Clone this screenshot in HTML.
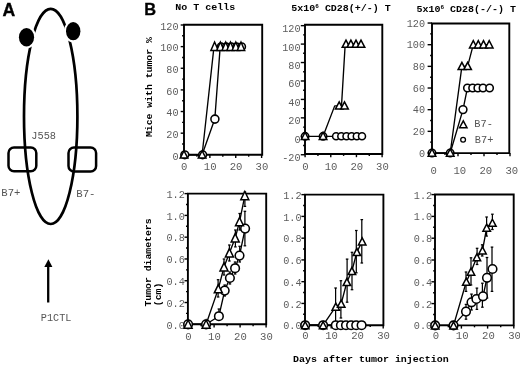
<!DOCTYPE html>
<html><head><meta charset="utf-8"><style>
html,body{margin:0;padding:0;background:#fff;}
svg{display:block;filter:grayscale(1);}
</style></head><body>
<svg width="520" height="366" viewBox="0 0 520 366">
<rect width="520" height="366" fill="#fff"/>
<text x="2.6" y="15.6" font-family='"Liberation Sans", sans-serif' font-weight="bold" font-size="17.6" fill="#000" stroke="#000" stroke-width="0.35">A</text>
<ellipse cx="50.7" cy="116.4" rx="26.7" ry="107.6" fill="none" stroke="#000" stroke-width="2.7"/>
<rect x="8.5" y="147.4" width="27.8" height="23.8" rx="5.5" ry="5.5" fill="none" stroke="#000" stroke-width="2.5"/>
<rect x="68.5" y="147.4" width="27.6" height="24.1" rx="5.5" ry="5.5" fill="none" stroke="#000" stroke-width="2.5"/>
<ellipse cx="26.5" cy="37.2" rx="7.6" ry="9.2" fill="#000" stroke="#fff" stroke-width="4.2"/>
<ellipse cx="73.2" cy="31.2" rx="7.2" ry="9.1" fill="#000" stroke="#fff" stroke-width="4.2"/>
<ellipse cx="26.5" cy="37.2" rx="7.6" ry="9.2" fill="#000"/>
<ellipse cx="73.2" cy="31.2" rx="7.2" ry="9.1" fill="#000"/>
<text x="31.3" y="138.6" font-family='"Liberation Mono", monospace' font-size="10.3" fill="#555">J558</text>
<text x="1.3" y="196" font-family='"Liberation Mono", monospace' font-size="10.6" fill="#555">B7+</text>
<text x="76.3" y="197.4" font-family='"Liberation Mono", monospace' font-size="10.6" fill="#555">B7-</text>
<text x="40.8" y="320.8" font-family='"Liberation Mono", monospace' font-size="10.2" fill="#555">P1CTL</text>
<line x1="48.2" y1="265" x2="48.2" y2="302.5" stroke="#000" stroke-width="2.3"/>
<polygon points="48.4,259.3 44.3,267 52.4,267" fill="#000"/>
<text x="144.3" y="15.2" font-family='"Liberation Sans", sans-serif' font-weight="bold" font-size="16.4" fill="#000" stroke="#000" stroke-width="0.3">B</text>
<text transform="translate(175.3,9.7) scale(1,0.88)" font-family='"Liberation Mono", monospace' font-weight="bold" font-size="10" fill="#000">No T cells</text>
<text transform="translate(291.3,11.4) scale(1,0.88)" font-family='"Liberation Mono", monospace' font-weight="bold" font-size="10" fill="#000">5x10<tspan font-size="6" dy="-3.5">6</tspan><tspan dy="3.5"> CD28(+/-) T</tspan></text>
<text transform="translate(416.4,11.9) scale(1,0.88)" font-family='"Liberation Mono", monospace' font-weight="bold" font-size="10" fill="#000">5x10<tspan font-size="6" dy="-3.5">6</tspan><tspan dy="3.5"> CD28(-/-) T</tspan></text>
<text transform="translate(152.1,137) rotate(-90) scale(1,0.88)" font-family='"Liberation Mono", monospace' font-weight="bold" font-size="9.8" fill="#000">Mice with tumor %</text>
<text transform="translate(150.6,306.6) rotate(-90) scale(1,0.88)" font-family='"Liberation Mono", monospace' font-weight="bold" font-size="9.8" fill="#000">Tumor diameters</text>
<text transform="translate(161.3,306.2) rotate(-90) scale(1,0.88)" font-family='"Liberation Mono", monospace' font-weight="bold" font-size="9.8" fill="#000">(cm)</text>
<text transform="translate(293,361.5) scale(1,0.88)" font-family='"Liberation Mono", monospace' font-weight="bold" font-size="10" fill="#000">Days after tumor injection</text>
<path d="M184,154.8 L184,24.8 L262.2,24.8 L262.2,154.8 Z" fill="none" stroke="#000" stroke-width="1.9" stroke-linejoin="miter"/>
<line x1="180.70" y1="154.80" x2="184" y2="154.80" stroke="#000" stroke-width="1.4"/>
<text x="178.6" y="159.50" text-anchor="end" font-family='"Liberation Mono", monospace' font-size="10.2" fill="#5c5c5c">0</text>
<line x1="180.70" y1="133.17" x2="184" y2="133.17" stroke="#000" stroke-width="1.4"/>
<text x="178.6" y="137.87" text-anchor="end" font-family='"Liberation Mono", monospace' font-size="10.2" fill="#5c5c5c">20</text>
<line x1="180.70" y1="111.53" x2="184" y2="111.53" stroke="#000" stroke-width="1.4"/>
<text x="178.6" y="116.23" text-anchor="end" font-family='"Liberation Mono", monospace' font-size="10.2" fill="#5c5c5c">40</text>
<line x1="180.70" y1="89.90" x2="184" y2="89.90" stroke="#000" stroke-width="1.4"/>
<text x="178.6" y="94.60" text-anchor="end" font-family='"Liberation Mono", monospace' font-size="10.2" fill="#5c5c5c">60</text>
<line x1="180.70" y1="68.26" x2="184" y2="68.26" stroke="#000" stroke-width="1.4"/>
<text x="178.6" y="72.96" text-anchor="end" font-family='"Liberation Mono", monospace' font-size="10.2" fill="#5c5c5c">80</text>
<line x1="180.70" y1="46.63" x2="184" y2="46.63" stroke="#000" stroke-width="1.4"/>
<text x="178.6" y="51.33" text-anchor="end" font-family='"Liberation Mono", monospace' font-size="10.2" fill="#5c5c5c">100</text>
<line x1="180.70" y1="25.00" x2="184" y2="25.00" stroke="#000" stroke-width="1.4"/>
<text x="178.6" y="29.70" text-anchor="end" font-family='"Liberation Mono", monospace' font-size="10.2" fill="#5c5c5c">120</text>
<line x1="182.10" y1="143.98" x2="184" y2="143.98" stroke="#000" stroke-width="1.4"/>
<line x1="182.10" y1="122.35" x2="184" y2="122.35" stroke="#000" stroke-width="1.4"/>
<line x1="182.10" y1="100.72" x2="184" y2="100.72" stroke="#000" stroke-width="1.4"/>
<line x1="182.10" y1="79.08" x2="184" y2="79.08" stroke="#000" stroke-width="1.4"/>
<line x1="182.10" y1="57.45" x2="184" y2="57.45" stroke="#000" stroke-width="1.4"/>
<line x1="182.10" y1="35.81" x2="184" y2="35.81" stroke="#000" stroke-width="1.4"/>
<line x1="184.00" y1="154.8" x2="184.00" y2="158.0" stroke="#000" stroke-width="1.4"/>
<text x="184.30" y="170.0" text-anchor="middle" font-family='"Liberation Mono", monospace' font-size="10.6" fill="#5c5c5c">0</text>
<line x1="209.87" y1="154.8" x2="209.87" y2="158.0" stroke="#000" stroke-width="1.4"/>
<text x="210.17" y="170.0" text-anchor="middle" font-family='"Liberation Mono", monospace' font-size="10.6" fill="#5c5c5c">10</text>
<line x1="235.74" y1="154.8" x2="235.74" y2="158.0" stroke="#000" stroke-width="1.4"/>
<text x="236.04" y="170.0" text-anchor="middle" font-family='"Liberation Mono", monospace' font-size="10.6" fill="#5c5c5c">20</text>
<line x1="261.61" y1="154.8" x2="261.61" y2="158.0" stroke="#000" stroke-width="1.4"/>
<text x="261.91" y="170.0" text-anchor="middle" font-family='"Liberation Mono", monospace' font-size="10.6" fill="#5c5c5c">30</text>
<line x1="196.94" y1="154.8" x2="196.94" y2="156.70000000000002" stroke="#000" stroke-width="1.4"/>
<line x1="222.81" y1="154.8" x2="222.81" y2="156.70000000000002" stroke="#000" stroke-width="1.4"/>
<line x1="248.68" y1="154.8" x2="248.68" y2="156.70000000000002" stroke="#000" stroke-width="1.4"/>
<polyline points="184.00,154.80 202.11,154.80 214.80,119.10 220.20,46.63 241.51,46.63" fill="none" stroke="#000" stroke-width="1.35" stroke-linejoin="round"/>
<polyline points="202.11,154.80 214.00,46.63 240.91,46.63" fill="none" stroke="#000" stroke-width="1.35" stroke-linejoin="round"/>
<circle cx="184.80" cy="154.80" r="3.9" fill="#fff" stroke="#000" stroke-width="1.55"/>
<circle cx="202.61" cy="154.80" r="3.9" fill="#fff" stroke="#000" stroke-width="1.55"/>
<circle cx="214.90" cy="119.10" r="4.0" fill="#fff" stroke="#000" stroke-width="1.55"/>
<circle cx="221.02" cy="46.63" r="3.7" fill="#fff" stroke="#000" stroke-width="1.55"/>
<circle cx="226.19" cy="46.63" r="3.7" fill="#fff" stroke="#000" stroke-width="1.55"/>
<circle cx="231.37" cy="46.63" r="3.7" fill="#fff" stroke="#000" stroke-width="1.55"/>
<circle cx="236.54" cy="46.63" r="3.7" fill="#fff" stroke="#000" stroke-width="1.55"/>
<circle cx="241.71" cy="46.63" r="3.7" fill="#fff" stroke="#000" stroke-width="1.55"/>
<polygon points="184.00,150.75 180.20,158.05 187.80,158.05" fill="#fff" stroke="#000" stroke-width="1.5" stroke-linejoin="miter"/>
<polygon points="202.11,150.75 198.31,158.05 205.91,158.05" fill="#fff" stroke="#000" stroke-width="1.5" stroke-linejoin="miter"/>
<polygon points="214.60,42.03 210.90,50.43 218.30,50.43" fill="#fff" stroke="#000" stroke-width="1.5" stroke-linejoin="miter"/>
<polygon points="220.40,42.03 216.70,50.43 224.10,50.43" fill="#fff" stroke="#000" stroke-width="1.5" stroke-linejoin="miter"/>
<polygon points="225.70,42.03 222.00,50.43 229.40,50.43" fill="#fff" stroke="#000" stroke-width="1.5" stroke-linejoin="miter"/>
<polygon points="230.50,42.03 226.80,50.43 234.20,50.43" fill="#fff" stroke="#000" stroke-width="1.5" stroke-linejoin="miter"/>
<polygon points="235.80,42.03 232.10,50.43 239.50,50.43" fill="#fff" stroke="#000" stroke-width="1.5" stroke-linejoin="miter"/>
<polygon points="241.00,42.03 237.30,50.43 244.70,50.43" fill="#fff" stroke="#000" stroke-width="1.5" stroke-linejoin="miter"/>
<path d="M305,154.0 L305,24.8 L382.3,24.8 L382.3,154.0 Z" fill="none" stroke="#000" stroke-width="1.9" stroke-linejoin="miter"/>
<line x1="300.80" y1="154.74" x2="305" y2="154.74" stroke="#000" stroke-width="1.4"/>
<text x="300.6" y="161.14" text-anchor="end" font-family='"Liberation Mono", monospace' font-size="10.2" fill="#5c5c5c">-20</text>
<line x1="300.80" y1="136.30" x2="305" y2="136.30" stroke="#000" stroke-width="1.4"/>
<text x="300.6" y="142.70" text-anchor="end" font-family='"Liberation Mono", monospace' font-size="10.2" fill="#5c5c5c">0</text>
<line x1="300.80" y1="117.86" x2="305" y2="117.86" stroke="#000" stroke-width="1.4"/>
<text x="300.6" y="124.26" text-anchor="end" font-family='"Liberation Mono", monospace' font-size="10.2" fill="#5c5c5c">20</text>
<line x1="300.80" y1="99.42" x2="305" y2="99.42" stroke="#000" stroke-width="1.4"/>
<text x="300.6" y="105.82" text-anchor="end" font-family='"Liberation Mono", monospace' font-size="10.2" fill="#5c5c5c">40</text>
<line x1="300.80" y1="80.98" x2="305" y2="80.98" stroke="#000" stroke-width="1.4"/>
<text x="300.6" y="87.38" text-anchor="end" font-family='"Liberation Mono", monospace' font-size="10.2" fill="#5c5c5c">60</text>
<line x1="300.80" y1="62.54" x2="305" y2="62.54" stroke="#000" stroke-width="1.4"/>
<text x="300.6" y="68.94" text-anchor="end" font-family='"Liberation Mono", monospace' font-size="10.2" fill="#5c5c5c">80</text>
<line x1="300.80" y1="44.10" x2="305" y2="44.10" stroke="#000" stroke-width="1.4"/>
<text x="300.6" y="50.50" text-anchor="end" font-family='"Liberation Mono", monospace' font-size="10.2" fill="#5c5c5c">100</text>
<line x1="300.80" y1="25.66" x2="305" y2="25.66" stroke="#000" stroke-width="1.4"/>
<text x="300.6" y="32.06" text-anchor="end" font-family='"Liberation Mono", monospace' font-size="10.2" fill="#5c5c5c">120</text>
<line x1="303.10" y1="145.52" x2="305" y2="145.52" stroke="#000" stroke-width="1.4"/>
<line x1="303.10" y1="127.08" x2="305" y2="127.08" stroke="#000" stroke-width="1.4"/>
<line x1="303.10" y1="108.64" x2="305" y2="108.64" stroke="#000" stroke-width="1.4"/>
<line x1="303.10" y1="90.20" x2="305" y2="90.20" stroke="#000" stroke-width="1.4"/>
<line x1="303.10" y1="71.76" x2="305" y2="71.76" stroke="#000" stroke-width="1.4"/>
<line x1="303.10" y1="53.32" x2="305" y2="53.32" stroke="#000" stroke-width="1.4"/>
<line x1="303.10" y1="34.88" x2="305" y2="34.88" stroke="#000" stroke-width="1.4"/>
<line x1="305.10" y1="154.0" x2="305.10" y2="157.2" stroke="#000" stroke-width="1.4"/>
<text x="305.40" y="170.3" text-anchor="middle" font-family='"Liberation Mono", monospace' font-size="10.6" fill="#5c5c5c">0</text>
<line x1="330.77" y1="154.0" x2="330.77" y2="157.2" stroke="#000" stroke-width="1.4"/>
<text x="331.07" y="170.3" text-anchor="middle" font-family='"Liberation Mono", monospace' font-size="10.6" fill="#5c5c5c">10</text>
<line x1="356.44" y1="154.0" x2="356.44" y2="157.2" stroke="#000" stroke-width="1.4"/>
<text x="356.74" y="170.3" text-anchor="middle" font-family='"Liberation Mono", monospace' font-size="10.6" fill="#5c5c5c">20</text>
<line x1="382.11" y1="154.0" x2="382.11" y2="157.2" stroke="#000" stroke-width="1.4"/>
<text x="382.41" y="170.3" text-anchor="middle" font-family='"Liberation Mono", monospace' font-size="10.6" fill="#5c5c5c">30</text>
<line x1="317.94" y1="154.0" x2="317.94" y2="155.9" stroke="#000" stroke-width="1.4"/>
<line x1="343.61" y1="154.0" x2="343.61" y2="155.9" stroke="#000" stroke-width="1.4"/>
<line x1="369.28" y1="154.0" x2="369.28" y2="155.9" stroke="#000" stroke-width="1.4"/>
<polyline points="305.10,136.30 323.07,136.30 362.00,136.30" fill="none" stroke="#000" stroke-width="1.35" stroke-linejoin="round"/>
<polyline points="323.07,136.30 334.70,105.87 339.20,105.87" fill="none" stroke="#000" stroke-width="1.35" stroke-linejoin="round"/>
<polyline points="341.50,105.87 345.20,44.10 361.00,44.10" fill="none" stroke="#000" stroke-width="1.35" stroke-linejoin="round"/>
<circle cx="305.10" cy="136.30" r="3.7" fill="#fff" stroke="#000" stroke-width="1.55"/>
<circle cx="323.07" cy="136.30" r="3.7" fill="#fff" stroke="#000" stroke-width="1.55"/>
<circle cx="336.10" cy="136.30" r="3.5" fill="#fff" stroke="#000" stroke-width="1.55"/>
<circle cx="341.30" cy="136.30" r="3.5" fill="#fff" stroke="#000" stroke-width="1.55"/>
<circle cx="346.50" cy="136.30" r="3.5" fill="#fff" stroke="#000" stroke-width="1.55"/>
<circle cx="351.60" cy="136.30" r="3.5" fill="#fff" stroke="#000" stroke-width="1.55"/>
<circle cx="356.80" cy="136.30" r="3.5" fill="#fff" stroke="#000" stroke-width="1.55"/>
<circle cx="362.00" cy="136.30" r="3.5" fill="#fff" stroke="#000" stroke-width="1.55"/>
<polygon points="305.10,132.25 301.30,139.55 308.90,139.55" fill="#fff" stroke="#000" stroke-width="1.5" stroke-linejoin="miter"/>
<polygon points="323.07,132.25 319.27,139.55 326.87,139.55" fill="#fff" stroke="#000" stroke-width="1.5" stroke-linejoin="miter"/>
<polygon points="339.20,101.82 335.40,109.12 343.00,109.12" fill="#fff" stroke="#000" stroke-width="1.5" stroke-linejoin="miter"/>
<polygon points="344.50,101.82 340.70,109.12 348.30,109.12" fill="#fff" stroke="#000" stroke-width="1.5" stroke-linejoin="miter"/>
<polygon points="346.00,40.05 342.20,47.35 349.80,47.35" fill="#fff" stroke="#000" stroke-width="1.5" stroke-linejoin="miter"/>
<polygon points="350.90,40.05 347.10,47.35 354.70,47.35" fill="#fff" stroke="#000" stroke-width="1.5" stroke-linejoin="miter"/>
<polygon points="356.00,40.05 352.20,47.35 359.80,47.35" fill="#fff" stroke="#000" stroke-width="1.5" stroke-linejoin="miter"/>
<polygon points="361.00,40.05 357.20,47.35 364.80,47.35" fill="#fff" stroke="#000" stroke-width="1.5" stroke-linejoin="miter"/>
<path d="M432.0,153.1 L432.0,23.5 L509.3,23.5 L509.3,153.1 Z" fill="none" stroke="#000" stroke-width="1.9" stroke-linejoin="miter"/>
<line x1="427.60" y1="153.00" x2="432.0" y2="153.00" stroke="#000" stroke-width="1.4"/>
<text x="425.0" y="156.50" text-anchor="end" font-family='"Liberation Mono", monospace' font-size="10.2" fill="#5c5c5c">0</text>
<line x1="427.60" y1="131.34" x2="432.0" y2="131.34" stroke="#000" stroke-width="1.4"/>
<text x="425.0" y="134.84" text-anchor="end" font-family='"Liberation Mono", monospace' font-size="10.2" fill="#5c5c5c">20</text>
<line x1="427.60" y1="109.68" x2="432.0" y2="109.68" stroke="#000" stroke-width="1.4"/>
<text x="425.0" y="113.18" text-anchor="end" font-family='"Liberation Mono", monospace' font-size="10.2" fill="#5c5c5c">40</text>
<line x1="427.60" y1="88.02" x2="432.0" y2="88.02" stroke="#000" stroke-width="1.4"/>
<text x="425.0" y="91.52" text-anchor="end" font-family='"Liberation Mono", monospace' font-size="10.2" fill="#5c5c5c">60</text>
<line x1="427.60" y1="66.36" x2="432.0" y2="66.36" stroke="#000" stroke-width="1.4"/>
<text x="425.0" y="69.86" text-anchor="end" font-family='"Liberation Mono", monospace' font-size="10.2" fill="#5c5c5c">80</text>
<line x1="427.60" y1="44.70" x2="432.0" y2="44.70" stroke="#000" stroke-width="1.4"/>
<text x="425.0" y="48.20" text-anchor="end" font-family='"Liberation Mono", monospace' font-size="10.2" fill="#5c5c5c">100</text>
<line x1="427.60" y1="23.04" x2="432.0" y2="23.04" stroke="#000" stroke-width="1.4"/>
<text x="425.0" y="26.54" text-anchor="end" font-family='"Liberation Mono", monospace' font-size="10.2" fill="#5c5c5c">120</text>
<line x1="430.10" y1="142.17" x2="432.0" y2="142.17" stroke="#000" stroke-width="1.4"/>
<line x1="430.10" y1="120.51" x2="432.0" y2="120.51" stroke="#000" stroke-width="1.4"/>
<line x1="430.10" y1="98.85" x2="432.0" y2="98.85" stroke="#000" stroke-width="1.4"/>
<line x1="430.10" y1="77.19" x2="432.0" y2="77.19" stroke="#000" stroke-width="1.4"/>
<line x1="430.10" y1="55.53" x2="432.0" y2="55.53" stroke="#000" stroke-width="1.4"/>
<line x1="430.10" y1="33.87" x2="432.0" y2="33.87" stroke="#000" stroke-width="1.4"/>
<line x1="432.00" y1="153.1" x2="432.00" y2="156.29999999999998" stroke="#000" stroke-width="1.4"/>
<text x="433.80" y="173.5" text-anchor="middle" font-family='"Liberation Mono", monospace' font-size="10.6" fill="#5c5c5c">0</text>
<line x1="458.00" y1="153.1" x2="458.00" y2="156.29999999999998" stroke="#000" stroke-width="1.4"/>
<text x="459.80" y="173.5" text-anchor="middle" font-family='"Liberation Mono", monospace' font-size="10.6" fill="#5c5c5c">10</text>
<line x1="484.00" y1="153.1" x2="484.00" y2="156.29999999999998" stroke="#000" stroke-width="1.4"/>
<text x="485.80" y="173.5" text-anchor="middle" font-family='"Liberation Mono", monospace' font-size="10.6" fill="#5c5c5c">20</text>
<line x1="510.00" y1="153.1" x2="510.00" y2="156.29999999999998" stroke="#000" stroke-width="1.4"/>
<text x="511.80" y="173.5" text-anchor="middle" font-family='"Liberation Mono", monospace' font-size="10.6" fill="#5c5c5c">30</text>
<line x1="445.00" y1="153.1" x2="445.00" y2="155.0" stroke="#000" stroke-width="1.4"/>
<line x1="471.00" y1="153.1" x2="471.00" y2="155.0" stroke="#000" stroke-width="1.4"/>
<line x1="497.00" y1="153.1" x2="497.00" y2="155.0" stroke="#000" stroke-width="1.4"/>
<polyline points="432.00,153.00 450.20,153.00" fill="none" stroke="#000" stroke-width="1.35" stroke-linejoin="round"/>
<polyline points="450.20,153.00 461.90,66.36 467.60,66.36 473.30,44.70 489.20,44.70" fill="none" stroke="#000" stroke-width="1.35" stroke-linejoin="round"/>
<polyline points="450.20,153.00 463.00,109.60 467.40,88.02 489.90,88.02" fill="none" stroke="#000" stroke-width="1.35" stroke-linejoin="round"/>
<circle cx="432.00" cy="153.00" r="3.7" fill="#fff" stroke="#000" stroke-width="1.55"/>
<circle cx="450.20" cy="153.00" r="3.7" fill="#fff" stroke="#000" stroke-width="1.55"/>
<circle cx="463.00" cy="109.60" r="3.9" fill="#fff" stroke="#000" stroke-width="1.55"/>
<circle cx="467.40" cy="88.02" r="3.7" fill="#fff" stroke="#000" stroke-width="1.55"/>
<circle cx="472.60" cy="88.02" r="3.7" fill="#fff" stroke="#000" stroke-width="1.55"/>
<circle cx="477.80" cy="88.02" r="3.7" fill="#fff" stroke="#000" stroke-width="1.55"/>
<circle cx="483.00" cy="88.02" r="3.7" fill="#fff" stroke="#000" stroke-width="1.55"/>
<circle cx="489.60" cy="88.02" r="3.7" fill="#fff" stroke="#000" stroke-width="1.55"/>
<polygon points="432.00,148.95 428.20,156.25 435.80,156.25" fill="#fff" stroke="#000" stroke-width="1.5" stroke-linejoin="miter"/>
<polygon points="450.20,148.95 446.40,156.25 454.00,156.25" fill="#fff" stroke="#000" stroke-width="1.5" stroke-linejoin="miter"/>
<polygon points="461.90,62.31 458.10,69.61 465.70,69.61" fill="#fff" stroke="#000" stroke-width="1.5" stroke-linejoin="miter"/>
<polygon points="467.60,62.31 463.80,69.61 471.40,69.61" fill="#fff" stroke="#000" stroke-width="1.5" stroke-linejoin="miter"/>
<polygon points="473.30,40.65 469.50,47.95 477.10,47.95" fill="#fff" stroke="#000" stroke-width="1.5" stroke-linejoin="miter"/>
<polygon points="478.30,40.65 474.50,47.95 482.10,47.95" fill="#fff" stroke="#000" stroke-width="1.5" stroke-linejoin="miter"/>
<polygon points="483.50,40.65 479.70,47.95 487.30,47.95" fill="#fff" stroke="#000" stroke-width="1.5" stroke-linejoin="miter"/>
<polygon points="489.20,40.65 485.40,47.95 493.00,47.95" fill="#fff" stroke="#000" stroke-width="1.5" stroke-linejoin="miter"/>
<polygon points="463.30,120.85 459.60,127.75 467.00,127.75" fill="#fff" stroke="#000" stroke-width="1.5" stroke-linejoin="miter"/>
<circle cx="463.10" cy="139.80" r="2.4" fill="#fff" stroke="#000" stroke-width="1.3"/>
<text x="474.3" y="126.7" font-family='"Liberation Mono", monospace' font-size="10.3" fill="#555">B7-</text>
<text x="474.8" y="142.7" font-family='"Liberation Mono", monospace' font-size="10.3" fill="#555">B7+</text>
<path d="M187.9,324.3 L187.9,193.6 L266.2,193.6 L266.2,324.3 Z" fill="none" stroke="#000" stroke-width="1.9" stroke-linejoin="miter"/>
<line x1="184.50" y1="324.30" x2="187.9" y2="324.30" stroke="#000" stroke-width="1.4"/>
<text x="184.8" y="328.50" text-anchor="end" font-family='"Liberation Mono", monospace' font-size="10.2" fill="#5c5c5c">0.0</text>
<line x1="184.50" y1="302.52" x2="187.9" y2="302.52" stroke="#000" stroke-width="1.4"/>
<text x="184.8" y="306.72" text-anchor="end" font-family='"Liberation Mono", monospace' font-size="10.2" fill="#5c5c5c">0.2</text>
<line x1="184.50" y1="280.74" x2="187.9" y2="280.74" stroke="#000" stroke-width="1.4"/>
<text x="184.8" y="284.94" text-anchor="end" font-family='"Liberation Mono", monospace' font-size="10.2" fill="#5c5c5c">0.4</text>
<line x1="184.50" y1="258.96" x2="187.9" y2="258.96" stroke="#000" stroke-width="1.4"/>
<text x="184.8" y="263.16" text-anchor="end" font-family='"Liberation Mono", monospace' font-size="10.2" fill="#5c5c5c">0.6</text>
<line x1="184.50" y1="237.18" x2="187.9" y2="237.18" stroke="#000" stroke-width="1.4"/>
<text x="184.8" y="241.38" text-anchor="end" font-family='"Liberation Mono", monospace' font-size="10.2" fill="#5c5c5c">0.8</text>
<line x1="184.50" y1="215.40" x2="187.9" y2="215.40" stroke="#000" stroke-width="1.4"/>
<text x="184.8" y="219.60" text-anchor="end" font-family='"Liberation Mono", monospace' font-size="10.2" fill="#5c5c5c">1.0</text>
<line x1="184.50" y1="193.62" x2="187.9" y2="193.62" stroke="#000" stroke-width="1.4"/>
<text x="184.8" y="197.82" text-anchor="end" font-family='"Liberation Mono", monospace' font-size="10.2" fill="#5c5c5c">1.2</text>
<line x1="186.00" y1="313.41" x2="187.9" y2="313.41" stroke="#000" stroke-width="1.4"/>
<line x1="186.00" y1="291.63" x2="187.9" y2="291.63" stroke="#000" stroke-width="1.4"/>
<line x1="186.00" y1="269.85" x2="187.9" y2="269.85" stroke="#000" stroke-width="1.4"/>
<line x1="186.00" y1="248.07" x2="187.9" y2="248.07" stroke="#000" stroke-width="1.4"/>
<line x1="186.00" y1="226.29" x2="187.9" y2="226.29" stroke="#000" stroke-width="1.4"/>
<line x1="186.00" y1="204.51" x2="187.9" y2="204.51" stroke="#000" stroke-width="1.4"/>
<line x1="188.10" y1="324.3" x2="188.10" y2="327.5" stroke="#000" stroke-width="1.4"/>
<text x="188.40" y="339.5" text-anchor="middle" font-family='"Liberation Mono", monospace' font-size="10.6" fill="#5c5c5c">0</text>
<line x1="214.10" y1="324.3" x2="214.10" y2="327.5" stroke="#000" stroke-width="1.4"/>
<text x="214.40" y="339.5" text-anchor="middle" font-family='"Liberation Mono", monospace' font-size="10.6" fill="#5c5c5c">10</text>
<line x1="240.10" y1="324.3" x2="240.10" y2="327.5" stroke="#000" stroke-width="1.4"/>
<text x="240.40" y="339.5" text-anchor="middle" font-family='"Liberation Mono", monospace' font-size="10.6" fill="#5c5c5c">20</text>
<line x1="266.10" y1="324.3" x2="266.10" y2="327.5" stroke="#000" stroke-width="1.4"/>
<text x="266.40" y="339.5" text-anchor="middle" font-family='"Liberation Mono", monospace' font-size="10.6" fill="#5c5c5c">30</text>
<line x1="201.10" y1="324.3" x2="201.10" y2="326.2" stroke="#000" stroke-width="1.4"/>
<line x1="227.10" y1="324.3" x2="227.10" y2="326.2" stroke="#000" stroke-width="1.4"/>
<line x1="253.10" y1="324.3" x2="253.10" y2="326.2" stroke="#000" stroke-width="1.4"/>
<polyline points="188.10,324.30 206.10,324.30 218.90,316.20 224.70,290.60 229.90,278.00 235.10,268.20 239.50,255.60 245.10,228.60" fill="none" stroke="#000" stroke-width="1.35" stroke-linejoin="round"/>
<polyline points="188.10,324.30 206.10,324.30 218.30,288.90 224.00,267.10 229.40,253.00 235.20,238.00 239.50,221.80 244.80,195.80" fill="none" stroke="#000" stroke-width="1.35" stroke-linejoin="round"/>
<line x1="218.90" y1="309.00" x2="218.90" y2="318.00" stroke="#000" stroke-width="1.25"/>
<line x1="217.60" y1="309.00" x2="220.20" y2="309.00" stroke="#000" stroke-width="1.25"/>
<line x1="217.60" y1="318.00" x2="220.20" y2="318.00" stroke="#000" stroke-width="1.25"/>
<line x1="224.70" y1="285.00" x2="224.70" y2="296.00" stroke="#000" stroke-width="1.25"/>
<line x1="223.40" y1="285.00" x2="226.00" y2="285.00" stroke="#000" stroke-width="1.25"/>
<line x1="223.40" y1="296.00" x2="226.00" y2="296.00" stroke="#000" stroke-width="1.25"/>
<line x1="229.90" y1="272.00" x2="229.90" y2="284.00" stroke="#000" stroke-width="1.25"/>
<line x1="228.60" y1="272.00" x2="231.20" y2="272.00" stroke="#000" stroke-width="1.25"/>
<line x1="228.60" y1="284.00" x2="231.20" y2="284.00" stroke="#000" stroke-width="1.25"/>
<line x1="235.10" y1="262.00" x2="235.10" y2="274.00" stroke="#000" stroke-width="1.25"/>
<line x1="233.80" y1="262.00" x2="236.40" y2="262.00" stroke="#000" stroke-width="1.25"/>
<line x1="233.80" y1="274.00" x2="236.40" y2="274.00" stroke="#000" stroke-width="1.25"/>
<line x1="239.70" y1="246.30" x2="239.70" y2="262.00" stroke="#000" stroke-width="1.25"/>
<line x1="238.40" y1="246.30" x2="241.00" y2="246.30" stroke="#000" stroke-width="1.25"/>
<line x1="238.40" y1="262.00" x2="241.00" y2="262.00" stroke="#000" stroke-width="1.25"/>
<line x1="244.90" y1="211.30" x2="244.90" y2="245.80" stroke="#000" stroke-width="1.25"/>
<line x1="243.60" y1="211.30" x2="246.20" y2="211.30" stroke="#000" stroke-width="1.25"/>
<line x1="243.60" y1="245.80" x2="246.20" y2="245.80" stroke="#000" stroke-width="1.25"/>
<line x1="218.10" y1="279.70" x2="218.10" y2="297.00" stroke="#000" stroke-width="1.25"/>
<line x1="216.80" y1="279.70" x2="219.40" y2="279.70" stroke="#000" stroke-width="1.25"/>
<line x1="216.80" y1="297.00" x2="219.40" y2="297.00" stroke="#000" stroke-width="1.25"/>
<line x1="224.00" y1="259.00" x2="224.00" y2="275.00" stroke="#000" stroke-width="1.25"/>
<line x1="222.70" y1="259.00" x2="225.30" y2="259.00" stroke="#000" stroke-width="1.25"/>
<line x1="222.70" y1="275.00" x2="225.30" y2="275.00" stroke="#000" stroke-width="1.25"/>
<line x1="229.40" y1="245.00" x2="229.40" y2="261.00" stroke="#000" stroke-width="1.25"/>
<line x1="228.10" y1="245.00" x2="230.70" y2="245.00" stroke="#000" stroke-width="1.25"/>
<line x1="228.10" y1="261.00" x2="230.70" y2="261.00" stroke="#000" stroke-width="1.25"/>
<line x1="235.40" y1="230.00" x2="235.40" y2="246.90" stroke="#000" stroke-width="1.25"/>
<line x1="234.10" y1="230.00" x2="236.70" y2="230.00" stroke="#000" stroke-width="1.25"/>
<line x1="234.10" y1="246.90" x2="236.70" y2="246.90" stroke="#000" stroke-width="1.25"/>
<line x1="239.70" y1="213.50" x2="239.70" y2="230.00" stroke="#000" stroke-width="1.25"/>
<line x1="238.40" y1="213.50" x2="241.00" y2="213.50" stroke="#000" stroke-width="1.25"/>
<line x1="238.40" y1="230.00" x2="241.00" y2="230.00" stroke="#000" stroke-width="1.25"/>
<line x1="244.90" y1="192.00" x2="244.90" y2="206.40" stroke="#000" stroke-width="1.25"/>
<line x1="243.60" y1="192.00" x2="246.20" y2="192.00" stroke="#000" stroke-width="1.25"/>
<line x1="243.60" y1="206.40" x2="246.20" y2="206.40" stroke="#000" stroke-width="1.25"/>
<circle cx="188.10" cy="324.30" r="4.3" fill="#fff" stroke="#000" stroke-width="1.55"/>
<circle cx="206.10" cy="324.30" r="4.3" fill="#fff" stroke="#000" stroke-width="1.55"/>
<circle cx="218.90" cy="316.20" r="4.3" fill="#fff" stroke="#000" stroke-width="1.55"/>
<circle cx="224.70" cy="290.60" r="4.3" fill="#fff" stroke="#000" stroke-width="1.55"/>
<circle cx="229.90" cy="278.00" r="4.3" fill="#fff" stroke="#000" stroke-width="1.55"/>
<circle cx="235.10" cy="268.20" r="4.3" fill="#fff" stroke="#000" stroke-width="1.55"/>
<circle cx="239.50" cy="255.60" r="4.3" fill="#fff" stroke="#000" stroke-width="1.55"/>
<circle cx="245.10" cy="228.60" r="4.3" fill="#fff" stroke="#000" stroke-width="1.55"/>
<polygon points="188.10,320.00 184.10,328.20 192.10,328.20" fill="#fff" stroke="#000" stroke-width="1.5" stroke-linejoin="miter"/>
<polygon points="206.10,320.00 202.10,328.20 210.10,328.20" fill="#fff" stroke="#000" stroke-width="1.5" stroke-linejoin="miter"/>
<polygon points="218.30,284.60 214.30,292.80 222.30,292.80" fill="#fff" stroke="#000" stroke-width="1.5" stroke-linejoin="miter"/>
<polygon points="224.00,262.80 220.00,271.00 228.00,271.00" fill="#fff" stroke="#000" stroke-width="1.5" stroke-linejoin="miter"/>
<polygon points="229.40,248.70 225.40,256.90 233.40,256.90" fill="#fff" stroke="#000" stroke-width="1.5" stroke-linejoin="miter"/>
<polygon points="235.20,233.70 231.20,241.90 239.20,241.90" fill="#fff" stroke="#000" stroke-width="1.5" stroke-linejoin="miter"/>
<polygon points="239.50,217.50 235.50,225.70 243.50,225.70" fill="#fff" stroke="#000" stroke-width="1.5" stroke-linejoin="miter"/>
<polygon points="244.80,191.50 240.80,199.70 248.80,199.70" fill="#fff" stroke="#000" stroke-width="1.5" stroke-linejoin="miter"/>
<path d="M305.0,325.2 L305.0,194.6 L383.4,194.6 L383.4,325.2 Z" fill="none" stroke="#000" stroke-width="1.9" stroke-linejoin="miter"/>
<line x1="301.40" y1="325.20" x2="305.0" y2="325.20" stroke="#000" stroke-width="1.4"/>
<text x="301.6" y="329.40" text-anchor="end" font-family='"Liberation Mono", monospace' font-size="10.2" fill="#5c5c5c">0.0</text>
<line x1="301.40" y1="303.44" x2="305.0" y2="303.44" stroke="#000" stroke-width="1.4"/>
<text x="301.6" y="307.64" text-anchor="end" font-family='"Liberation Mono", monospace' font-size="10.2" fill="#5c5c5c">0.2</text>
<line x1="301.40" y1="281.68" x2="305.0" y2="281.68" stroke="#000" stroke-width="1.4"/>
<text x="301.6" y="285.88" text-anchor="end" font-family='"Liberation Mono", monospace' font-size="10.2" fill="#5c5c5c">0.4</text>
<line x1="301.40" y1="259.92" x2="305.0" y2="259.92" stroke="#000" stroke-width="1.4"/>
<text x="301.6" y="264.12" text-anchor="end" font-family='"Liberation Mono", monospace' font-size="10.2" fill="#5c5c5c">0.6</text>
<line x1="301.40" y1="238.16" x2="305.0" y2="238.16" stroke="#000" stroke-width="1.4"/>
<text x="301.6" y="242.36" text-anchor="end" font-family='"Liberation Mono", monospace' font-size="10.2" fill="#5c5c5c">0.8</text>
<line x1="301.40" y1="216.40" x2="305.0" y2="216.40" stroke="#000" stroke-width="1.4"/>
<text x="301.6" y="220.60" text-anchor="end" font-family='"Liberation Mono", monospace' font-size="10.2" fill="#5c5c5c">1.0</text>
<line x1="301.40" y1="194.64" x2="305.0" y2="194.64" stroke="#000" stroke-width="1.4"/>
<text x="301.6" y="198.84" text-anchor="end" font-family='"Liberation Mono", monospace' font-size="10.2" fill="#5c5c5c">1.2</text>
<line x1="303.10" y1="314.32" x2="305.0" y2="314.32" stroke="#000" stroke-width="1.4"/>
<line x1="303.10" y1="292.56" x2="305.0" y2="292.56" stroke="#000" stroke-width="1.4"/>
<line x1="303.10" y1="270.80" x2="305.0" y2="270.80" stroke="#000" stroke-width="1.4"/>
<line x1="303.10" y1="249.04" x2="305.0" y2="249.04" stroke="#000" stroke-width="1.4"/>
<line x1="303.10" y1="227.28" x2="305.0" y2="227.28" stroke="#000" stroke-width="1.4"/>
<line x1="303.10" y1="205.52" x2="305.0" y2="205.52" stroke="#000" stroke-width="1.4"/>
<line x1="305.20" y1="325.2" x2="305.20" y2="328.4" stroke="#000" stroke-width="1.4"/>
<text x="305.50" y="339.0" text-anchor="middle" font-family='"Liberation Mono", monospace' font-size="10.6" fill="#5c5c5c">0</text>
<line x1="331.20" y1="325.2" x2="331.20" y2="328.4" stroke="#000" stroke-width="1.4"/>
<text x="331.50" y="339.0" text-anchor="middle" font-family='"Liberation Mono", monospace' font-size="10.6" fill="#5c5c5c">10</text>
<line x1="357.20" y1="325.2" x2="357.20" y2="328.4" stroke="#000" stroke-width="1.4"/>
<text x="357.50" y="339.0" text-anchor="middle" font-family='"Liberation Mono", monospace' font-size="10.6" fill="#5c5c5c">20</text>
<line x1="383.20" y1="325.2" x2="383.20" y2="328.4" stroke="#000" stroke-width="1.4"/>
<text x="383.50" y="339.0" text-anchor="middle" font-family='"Liberation Mono", monospace' font-size="10.6" fill="#5c5c5c">30</text>
<line x1="318.20" y1="325.2" x2="318.20" y2="327.09999999999997" stroke="#000" stroke-width="1.4"/>
<line x1="344.20" y1="325.2" x2="344.20" y2="327.09999999999997" stroke="#000" stroke-width="1.4"/>
<line x1="370.20" y1="325.2" x2="370.20" y2="327.09999999999997" stroke="#000" stroke-width="1.4"/>
<polyline points="305.20,325.20 323.10,325.20 335.80,325.20 340.90,325.20 346.00,325.20 351.10,325.20 356.20,325.20 361.60,325.20" fill="none" stroke="#000" stroke-width="1.35" stroke-linejoin="round"/>
<polyline points="305.20,325.20 323.10,325.20 335.80,306.70 341.20,303.60 346.90,282.00 351.90,271.00 356.90,252.00 362.20,241.40" fill="none" stroke="#000" stroke-width="1.35" stroke-linejoin="round"/>
<line x1="335.60" y1="288.00" x2="335.60" y2="322.00" stroke="#000" stroke-width="1.25"/>
<line x1="334.30" y1="288.00" x2="336.90" y2="288.00" stroke="#000" stroke-width="1.25"/>
<line x1="334.30" y1="322.00" x2="336.90" y2="322.00" stroke="#000" stroke-width="1.25"/>
<line x1="340.90" y1="280.70" x2="340.90" y2="318.00" stroke="#000" stroke-width="1.25"/>
<line x1="339.60" y1="280.70" x2="342.20" y2="280.70" stroke="#000" stroke-width="1.25"/>
<line x1="339.60" y1="318.00" x2="342.20" y2="318.00" stroke="#000" stroke-width="1.25"/>
<line x1="347.10" y1="259.10" x2="347.10" y2="302.20" stroke="#000" stroke-width="1.25"/>
<line x1="345.80" y1="259.10" x2="348.40" y2="259.10" stroke="#000" stroke-width="1.25"/>
<line x1="345.80" y1="302.20" x2="348.40" y2="302.20" stroke="#000" stroke-width="1.25"/>
<line x1="352.00" y1="252.30" x2="352.00" y2="289.70" stroke="#000" stroke-width="1.25"/>
<line x1="350.70" y1="252.30" x2="353.30" y2="252.30" stroke="#000" stroke-width="1.25"/>
<line x1="350.70" y1="289.70" x2="353.30" y2="289.70" stroke="#000" stroke-width="1.25"/>
<line x1="356.30" y1="230.50" x2="356.30" y2="272.80" stroke="#000" stroke-width="1.25"/>
<line x1="355.00" y1="230.50" x2="357.60" y2="230.50" stroke="#000" stroke-width="1.25"/>
<line x1="355.00" y1="272.80" x2="357.60" y2="272.80" stroke="#000" stroke-width="1.25"/>
<line x1="361.80" y1="219.60" x2="361.80" y2="263.00" stroke="#000" stroke-width="1.25"/>
<line x1="360.50" y1="219.60" x2="363.10" y2="219.60" stroke="#000" stroke-width="1.25"/>
<line x1="360.50" y1="263.00" x2="363.10" y2="263.00" stroke="#000" stroke-width="1.25"/>
<circle cx="305.20" cy="325.20" r="4.3" fill="#fff" stroke="#000" stroke-width="1.55"/>
<circle cx="323.10" cy="325.20" r="4.3" fill="#fff" stroke="#000" stroke-width="1.55"/>
<circle cx="335.80" cy="325.20" r="4.3" fill="#fff" stroke="#000" stroke-width="1.55"/>
<circle cx="340.90" cy="325.20" r="4.3" fill="#fff" stroke="#000" stroke-width="1.55"/>
<circle cx="346.00" cy="325.20" r="4.3" fill="#fff" stroke="#000" stroke-width="1.55"/>
<circle cx="351.10" cy="325.20" r="4.3" fill="#fff" stroke="#000" stroke-width="1.55"/>
<circle cx="356.20" cy="325.20" r="4.3" fill="#fff" stroke="#000" stroke-width="1.55"/>
<circle cx="361.60" cy="325.20" r="4.3" fill="#fff" stroke="#000" stroke-width="1.55"/>
<polygon points="305.20,321.65 301.45,328.75 308.95,328.75" fill="#fff" stroke="#000" stroke-width="1.5" stroke-linejoin="miter"/>
<polygon points="323.10,321.65 319.35,328.75 326.85,328.75" fill="#fff" stroke="#000" stroke-width="1.5" stroke-linejoin="miter"/>
<polygon points="335.80,303.15 332.05,310.25 339.55,310.25" fill="#fff" stroke="#000" stroke-width="1.5" stroke-linejoin="miter"/>
<polygon points="341.20,300.05 337.45,307.15 344.95,307.15" fill="#fff" stroke="#000" stroke-width="1.5" stroke-linejoin="miter"/>
<polygon points="346.90,278.45 343.15,285.55 350.65,285.55" fill="#fff" stroke="#000" stroke-width="1.5" stroke-linejoin="miter"/>
<polygon points="351.90,267.45 348.15,274.55 355.65,274.55" fill="#fff" stroke="#000" stroke-width="1.5" stroke-linejoin="miter"/>
<polygon points="356.90,248.45 353.15,255.55 360.65,255.55" fill="#fff" stroke="#000" stroke-width="1.5" stroke-linejoin="miter"/>
<polygon points="362.20,237.85 358.45,244.95 365.95,244.95" fill="#fff" stroke="#000" stroke-width="1.5" stroke-linejoin="miter"/>
<path d="M435.0,325.4 L435.0,194.5 L513.7,194.5 L513.7,325.4 Z" fill="none" stroke="#000" stroke-width="1.9" stroke-linejoin="miter"/>
<line x1="431.40" y1="325.40" x2="435.0" y2="325.40" stroke="#000" stroke-width="1.4"/>
<text x="432.2" y="329.40" text-anchor="end" font-family='"Liberation Mono", monospace' font-size="10.2" fill="#5c5c5c">0.0</text>
<line x1="431.40" y1="303.60" x2="435.0" y2="303.60" stroke="#000" stroke-width="1.4"/>
<text x="432.2" y="307.60" text-anchor="end" font-family='"Liberation Mono", monospace' font-size="10.2" fill="#5c5c5c">0.2</text>
<line x1="431.40" y1="281.80" x2="435.0" y2="281.80" stroke="#000" stroke-width="1.4"/>
<text x="432.2" y="285.80" text-anchor="end" font-family='"Liberation Mono", monospace' font-size="10.2" fill="#5c5c5c">0.4</text>
<line x1="431.40" y1="260.00" x2="435.0" y2="260.00" stroke="#000" stroke-width="1.4"/>
<text x="432.2" y="264.00" text-anchor="end" font-family='"Liberation Mono", monospace' font-size="10.2" fill="#5c5c5c">0.6</text>
<line x1="431.40" y1="238.20" x2="435.0" y2="238.20" stroke="#000" stroke-width="1.4"/>
<text x="432.2" y="242.20" text-anchor="end" font-family='"Liberation Mono", monospace' font-size="10.2" fill="#5c5c5c">0.8</text>
<line x1="431.40" y1="216.40" x2="435.0" y2="216.40" stroke="#000" stroke-width="1.4"/>
<text x="432.2" y="220.40" text-anchor="end" font-family='"Liberation Mono", monospace' font-size="10.2" fill="#5c5c5c">1.0</text>
<line x1="431.40" y1="194.60" x2="435.0" y2="194.60" stroke="#000" stroke-width="1.4"/>
<text x="432.2" y="198.60" text-anchor="end" font-family='"Liberation Mono", monospace' font-size="10.2" fill="#5c5c5c">1.2</text>
<line x1="433.10" y1="314.50" x2="435.0" y2="314.50" stroke="#000" stroke-width="1.4"/>
<line x1="433.10" y1="292.70" x2="435.0" y2="292.70" stroke="#000" stroke-width="1.4"/>
<line x1="433.10" y1="270.90" x2="435.0" y2="270.90" stroke="#000" stroke-width="1.4"/>
<line x1="433.10" y1="249.10" x2="435.0" y2="249.10" stroke="#000" stroke-width="1.4"/>
<line x1="433.10" y1="227.30" x2="435.0" y2="227.30" stroke="#000" stroke-width="1.4"/>
<line x1="433.10" y1="205.50" x2="435.0" y2="205.50" stroke="#000" stroke-width="1.4"/>
<line x1="435.20" y1="325.4" x2="435.20" y2="328.59999999999997" stroke="#000" stroke-width="1.4"/>
<text x="436.00" y="338.6" text-anchor="middle" font-family='"Liberation Mono", monospace' font-size="10.6" fill="#5c5c5c">0</text>
<line x1="461.40" y1="325.4" x2="461.40" y2="328.59999999999997" stroke="#000" stroke-width="1.4"/>
<text x="462.20" y="338.6" text-anchor="middle" font-family='"Liberation Mono", monospace' font-size="10.6" fill="#5c5c5c">10</text>
<line x1="487.60" y1="325.4" x2="487.60" y2="328.59999999999997" stroke="#000" stroke-width="1.4"/>
<text x="488.40" y="338.6" text-anchor="middle" font-family='"Liberation Mono", monospace' font-size="10.6" fill="#5c5c5c">20</text>
<line x1="513.80" y1="325.4" x2="513.80" y2="328.59999999999997" stroke="#000" stroke-width="1.4"/>
<text x="514.60" y="338.6" text-anchor="middle" font-family='"Liberation Mono", monospace' font-size="10.6" fill="#5c5c5c">30</text>
<line x1="448.30" y1="325.4" x2="448.30" y2="327.29999999999995" stroke="#000" stroke-width="1.4"/>
<line x1="474.50" y1="325.4" x2="474.50" y2="327.29999999999995" stroke="#000" stroke-width="1.4"/>
<line x1="500.70" y1="325.4" x2="500.70" y2="327.29999999999995" stroke="#000" stroke-width="1.4"/>
<polyline points="435.20,325.40 453.54,325.40 466.00,311.60 471.50,302.30 476.40,299.00 483.00,296.30 487.00,277.80 492.50,269.00" fill="none" stroke="#000" stroke-width="1.35" stroke-linejoin="round"/>
<polyline points="435.20,325.40 453.54,325.40 466.30,281.70 471.00,271.60 476.90,257.30 482.50,250.40 486.70,227.60 492.40,222.80" fill="none" stroke="#000" stroke-width="1.35" stroke-linejoin="round"/>
<line x1="466.00" y1="304.40" x2="466.00" y2="319.20" stroke="#000" stroke-width="1.25"/>
<line x1="464.70" y1="304.40" x2="467.30" y2="304.40" stroke="#000" stroke-width="1.25"/>
<line x1="464.70" y1="319.20" x2="467.30" y2="319.20" stroke="#000" stroke-width="1.25"/>
<line x1="471.50" y1="294.10" x2="471.50" y2="310.00" stroke="#000" stroke-width="1.25"/>
<line x1="470.20" y1="294.10" x2="472.80" y2="294.10" stroke="#000" stroke-width="1.25"/>
<line x1="470.20" y1="310.00" x2="472.80" y2="310.00" stroke="#000" stroke-width="1.25"/>
<line x1="476.90" y1="288.10" x2="476.90" y2="309.40" stroke="#000" stroke-width="1.25"/>
<line x1="475.60" y1="288.10" x2="478.20" y2="288.10" stroke="#000" stroke-width="1.25"/>
<line x1="475.60" y1="309.40" x2="478.20" y2="309.40" stroke="#000" stroke-width="1.25"/>
<line x1="482.40" y1="283.20" x2="482.40" y2="307.20" stroke="#000" stroke-width="1.25"/>
<line x1="481.10" y1="283.20" x2="483.70" y2="283.20" stroke="#000" stroke-width="1.25"/>
<line x1="481.10" y1="307.20" x2="483.70" y2="307.20" stroke="#000" stroke-width="1.25"/>
<line x1="487.00" y1="257.50" x2="487.00" y2="298.00" stroke="#000" stroke-width="1.25"/>
<line x1="485.70" y1="257.50" x2="488.30" y2="257.50" stroke="#000" stroke-width="1.25"/>
<line x1="485.70" y1="298.00" x2="488.30" y2="298.00" stroke="#000" stroke-width="1.25"/>
<line x1="492.00" y1="247.10" x2="492.00" y2="291.40" stroke="#000" stroke-width="1.25"/>
<line x1="490.70" y1="247.10" x2="493.30" y2="247.10" stroke="#000" stroke-width="1.25"/>
<line x1="490.70" y1="291.40" x2="493.30" y2="291.40" stroke="#000" stroke-width="1.25"/>
<line x1="466.00" y1="272.00" x2="466.00" y2="291.40" stroke="#000" stroke-width="1.25"/>
<line x1="464.70" y1="272.00" x2="467.30" y2="272.00" stroke="#000" stroke-width="1.25"/>
<line x1="464.70" y1="291.40" x2="467.30" y2="291.40" stroke="#000" stroke-width="1.25"/>
<line x1="471.00" y1="257.80" x2="471.00" y2="285.00" stroke="#000" stroke-width="1.25"/>
<line x1="469.70" y1="257.80" x2="472.30" y2="257.80" stroke="#000" stroke-width="1.25"/>
<line x1="469.70" y1="285.00" x2="472.30" y2="285.00" stroke="#000" stroke-width="1.25"/>
<line x1="477.10" y1="248.30" x2="477.10" y2="264.50" stroke="#000" stroke-width="1.25"/>
<line x1="475.80" y1="248.30" x2="478.40" y2="248.30" stroke="#000" stroke-width="1.25"/>
<line x1="475.80" y1="264.50" x2="478.40" y2="264.50" stroke="#000" stroke-width="1.25"/>
<line x1="482.20" y1="244.80" x2="482.20" y2="256.00" stroke="#000" stroke-width="1.25"/>
<line x1="480.90" y1="244.80" x2="483.50" y2="244.80" stroke="#000" stroke-width="1.25"/>
<line x1="480.90" y1="256.00" x2="483.50" y2="256.00" stroke="#000" stroke-width="1.25"/>
<line x1="486.60" y1="217.00" x2="486.60" y2="236.10" stroke="#000" stroke-width="1.25"/>
<line x1="485.30" y1="217.00" x2="487.90" y2="217.00" stroke="#000" stroke-width="1.25"/>
<line x1="485.30" y1="236.10" x2="487.90" y2="236.10" stroke="#000" stroke-width="1.25"/>
<line x1="492.40" y1="214.20" x2="492.40" y2="229.50" stroke="#000" stroke-width="1.25"/>
<line x1="491.10" y1="214.20" x2="493.70" y2="214.20" stroke="#000" stroke-width="1.25"/>
<line x1="491.10" y1="229.50" x2="493.70" y2="229.50" stroke="#000" stroke-width="1.25"/>
<circle cx="435.20" cy="325.40" r="4.3" fill="#fff" stroke="#000" stroke-width="1.55"/>
<circle cx="453.54" cy="325.40" r="4.3" fill="#fff" stroke="#000" stroke-width="1.55"/>
<circle cx="466.00" cy="311.60" r="4.3" fill="#fff" stroke="#000" stroke-width="1.55"/>
<circle cx="471.50" cy="302.30" r="4.3" fill="#fff" stroke="#000" stroke-width="1.55"/>
<circle cx="476.40" cy="299.00" r="4.3" fill="#fff" stroke="#000" stroke-width="1.55"/>
<circle cx="483.00" cy="296.30" r="4.3" fill="#fff" stroke="#000" stroke-width="1.55"/>
<circle cx="487.00" cy="277.80" r="4.3" fill="#fff" stroke="#000" stroke-width="1.55"/>
<circle cx="492.50" cy="269.00" r="4.3" fill="#fff" stroke="#000" stroke-width="1.55"/>
<polygon points="435.20,321.85 431.45,328.95 438.95,328.95" fill="#fff" stroke="#000" stroke-width="1.5" stroke-linejoin="miter"/>
<polygon points="453.54,321.85 449.79,328.95 457.29,328.95" fill="#fff" stroke="#000" stroke-width="1.5" stroke-linejoin="miter"/>
<polygon points="466.30,278.15 462.55,285.25 470.05,285.25" fill="#fff" stroke="#000" stroke-width="1.5" stroke-linejoin="miter"/>
<polygon points="471.00,268.05 467.25,275.15 474.75,275.15" fill="#fff" stroke="#000" stroke-width="1.5" stroke-linejoin="miter"/>
<polygon points="476.90,253.75 473.15,260.85 480.65,260.85" fill="#fff" stroke="#000" stroke-width="1.5" stroke-linejoin="miter"/>
<polygon points="482.50,246.85 478.75,253.95 486.25,253.95" fill="#fff" stroke="#000" stroke-width="1.5" stroke-linejoin="miter"/>
<polygon points="486.70,224.05 482.95,231.15 490.45,231.15" fill="#fff" stroke="#000" stroke-width="1.5" stroke-linejoin="miter"/>
<polygon points="492.40,219.25 488.65,226.35 496.15,226.35" fill="#fff" stroke="#000" stroke-width="1.5" stroke-linejoin="miter"/>
</svg>
</body></html>
